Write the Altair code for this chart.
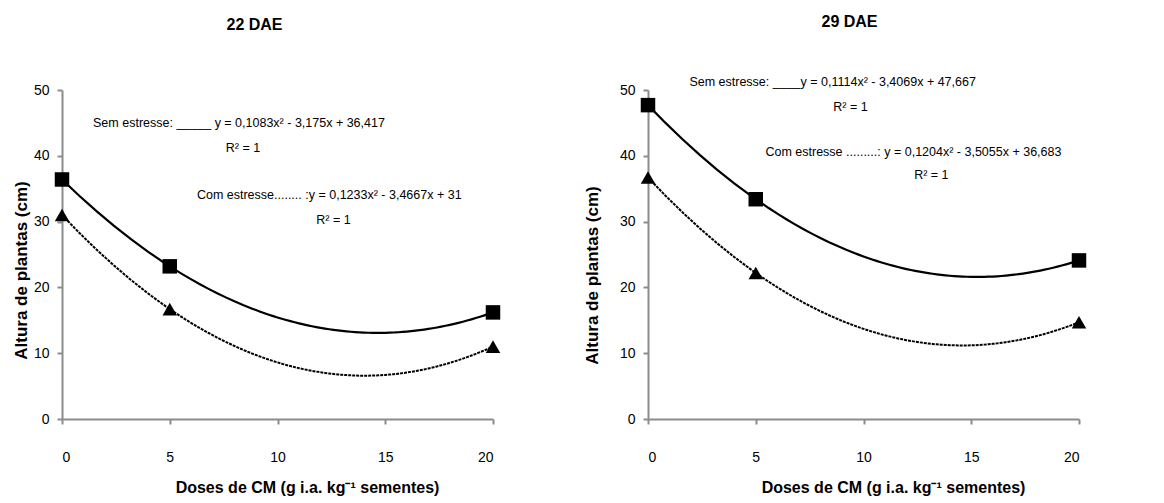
import altair as alt
import pandas as pd

doses = [0, 5, 20]
sem_22 = [36.4, 23.2, 16.2]
com_22 = [31.0, 16.7, 11.0]
sem_29 = [47.7, 33.4, 24.1]
com_29 = [36.7, 22.2, 14.7]

series_names = ["Sem estresse", "Com estresse"]
x_ticks = [0, 5, 10, 15, 20]
y_ticks = [0, 10, 20, 30, 40, 50]

notes_22 = [
    "Sem estresse: _____ y = 0,1083x² - 3,175x + 36,417",
    "R² = 1",
    "Com estresse........ :y = 0,1233x² - 3,4667x + 31",
    "R² = 1",
]
notes_22_x = [1.44, 7.6, 6.26, 11.8]
notes_22_y = [45.0, 41.2, 34.0, 30.2]

notes_29 = [
    "Sem estresse: ____y = 0,1114x² - 3,4069x + 47,667",
    "R² = 1",
    "Com estresse .........:  y = 0,1204x² - 3,5055x + 36,683",
    "R² = 1",
]
notes_29_x = [1.92, 8.6, 5.45, 12.35]
notes_29_y = [51.2, 47.4, 40.6, 37.1]

FONT = "Liberation Sans"
W, H = 431, 329


def panel(title, title_dx, title_off, sem, com, nx, ny, ntext, ytitle_x, ytitle_y):
    df = pd.DataFrame({
        "dose": doses * 2,
        "altura": sem + com,
        "serie": [series_names[0]] * 3 + [series_names[1]] * 3,
    })
    notes = pd.DataFrame({"x": nx, "y": ny, "t": ntext})
    xenc = alt.X("dose:Q", scale=alt.Scale(domain=[0, 20], nice=False),
                 axis=alt.Axis(values=x_ticks, title="Doses de CM (g i.a. kg⁻¹ sementes)",
                               labelPadding=26, titleX=245, titleY=68,
                               titleBaseline="middle", titleAnchor="start", titleAlign="center"))
    yenc = alt.Y("altura:Q", scale=alt.Scale(domain=[0, 50], nice=False),
                 axis=alt.Axis(values=y_ticks, title="Altura de plantas (cm)",
                               labelPadding=8, titleX=ytitle_x, titleY=ytitle_y,
                               titleBaseline="middle", titleAlign="center", titleAngle=-90,
                               titleFontSize=17))
    base = alt.Chart(df)
    sem_line = base.transform_filter(alt.datum.serie == series_names[0]).transform_regression(
        "dose", "altura", method="poly", order=2, extent=[0, 20]
    ).mark_line(color="black", strokeWidth=2.2).encode(x=xenc, y=yenc)
    com_line = base.transform_filter(alt.datum.serie == series_names[1]).transform_regression(
        "dose", "altura", method="poly", order=2, extent=[0, 20]
    ).mark_line(color="black", strokeWidth=2, strokeDash=[3, 1]).encode(x=xenc, y=yenc)
    pts = base.mark_point(filled=True, color="black", opacity=1, size=210).encode(
        x=xenc, y=yenc,
        shape=alt.Shape("serie:N", scale=alt.Scale(domain=series_names,
                                                   range=["square", "triangle-up"]), legend=None),
    )
    txt = alt.Chart(notes).mark_text(align="left", baseline="middle", font=FONT,
                                     fontSize=12.5, color="black").encode(
        x=alt.X("x:Q"), y=alt.Y("y:Q"), text="t:N")
    return alt.layer(sem_line, com_line, pts, txt).properties(
        width=W, height=H,
        title=alt.TitleParams(title, fontSize=16, font=FONT, fontWeight="bold",
                              anchor="middle", dx=title_dx, offset=title_off, color="black"),
    )


left = panel("22 DAE", -23, 50, sem_22, com_22, notes_22_x, notes_22_y, notes_22, -41, 180)
right = panel("29 DAE", -14, 46, sem_29, com_29, notes_29_x, notes_29_y, notes_29, -56, 185)

chart = alt.hconcat(left, right, spacing=82).properties(
    padding={"left": 4, "top": 6, "right": 5, "bottom": 5}
).configure_view(stroke=None).configure_axis(
    grid=False, domainColor="#8c8c8c", domainWidth=2, tickColor="#8c8c8c", tickWidth=2,
    tickSize=5, labelFont=FONT, labelFontSize=14, labelColor="black",
    titleFont=FONT, titleFontSize=16, titleFontWeight="bold", titleColor="black",
)

chart.save("out.html", embed_options={"renderer": "svg", "actions": False})
